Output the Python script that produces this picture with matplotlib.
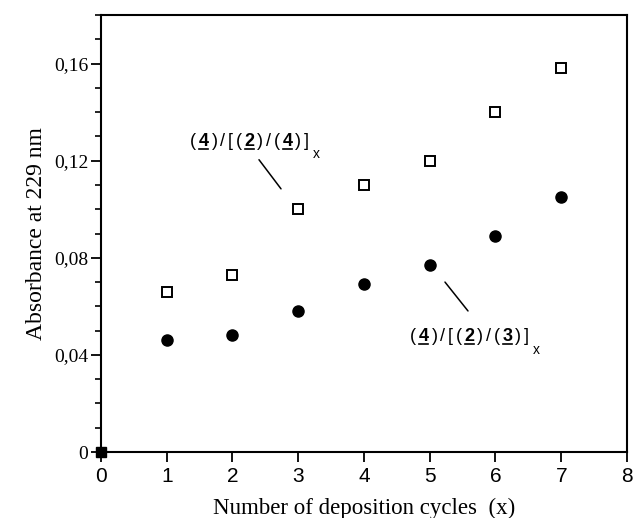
import matplotlib
matplotlib.use("Agg")
import matplotlib.pyplot as plt
from matplotlib.transforms import IdentityTransform
from matplotlib.ticker import MultipleLocator, FuncFormatter

# deposition cycles and absorbance
cycles = [1, 2, 3, 4, 5, 6, 7]
abs_424 = [0.066, 0.073, 0.100, 0.110, 0.120, 0.140, 0.158]   # (4)/[(2)/(4)]x, open squares
abs_423 = [0.046, 0.048, 0.058, 0.069, 0.077, 0.089, 0.105]   # (4)/[(2)/(3)]x, filled circles
start_x = [0]
start_y = [0.0]

label_424 = "(4)/[(2)/(4)]"
label_423 = "(4)/[(2)/(3)]"

fig = plt.figure(figsize=(6.36, 5.18), dpi=100)
ax = fig.add_axes([0.1588, 0.1274, 0.8270, 0.8436])

ax.plot(cycles, abs_424, ls="none", marker="s", ms=7, mfc="white", mec="black", mew=1.4)
ax.plot(cycles, abs_423, ls="none", marker="o", ms=8, mfc="black", mec="black")
ax.plot(start_x, start_y, ls="none", marker="s", ms=7.5, color="black", clip_on=False, zorder=5)

ax.set_xlim(0, 8)
ax.set_ylim(0, 0.18)
ax.xaxis.set_major_locator(MultipleLocator(1))
ax.yaxis.set_major_locator(MultipleLocator(0.04))
ax.yaxis.set_minor_locator(MultipleLocator(0.01))
ax.yaxis.set_major_formatter(FuncFormatter(
    lambda v, p: "0" if abs(v) < 1e-9 else f"{v:.2f}".replace(".", ",")))

for s in ax.spines.values():
    s.set_linewidth(1.5)
ax.tick_params(axis="both", which="major", direction="out", length=7, width=1.3)
ax.tick_params(axis="y", which="minor", direction="out", length=4, width=1.2)
ax.tick_params(axis="x", labelsize=15, pad=4)
ax.tick_params(axis="y", labelsize=14, pad=2)
for t in ax.get_xticklabels():
    t.set_fontfamily("Liberation Sans")
for t in ax.get_yticklabels():
    t.set_fontfamily("Liberation Serif")

ax.set_xlabel("Number of deposition cycles  (x)", fontsize=16.5, family="Liberation Serif", labelpad=8)
ax.set_ylabel("Absorbance at 229 nm", fontsize=17, family="Liberation Serif", labelpad=5)


def spaced_label(x, y, text, size=13, gap=2.7, sub="x", drop=12):
    # letter-spaced label, digits bold and underlined, with a subscript x
    renderer = fig.canvas.get_renderer()
    px, py = ax.transData.transform((x, y))
    for ch in text:
        bold = ch.isdigit()
        t = fig.text(px, py, ch, transform=IdentityTransform(), fontsize=size,
                     fontweight="bold" if bold else "normal", family="Liberation Sans",
                     ha="left", va="baseline")
        w = t.get_window_extent(renderer).width
        if bold:
            fig.add_artist(plt.Line2D([px + 0.5, px + w - 0.5], [py - 3, py - 3], lw=1.2,
                                      color="black", transform=IdentityTransform()))
        px += w + gap
    fig.text(px + 1, py - drop, sub, transform=IdentityTransform(), fontsize=10,
             family="Liberation Sans", ha="left", va="baseline")


spaced_label(1.354, 0.1260, label_424)
spaced_label(4.700, 0.0457, label_423, drop=13)

ax.annotate("", xy=(2.738, 0.1084), xytext=(2.403, 0.1204),
            arrowprops=dict(arrowstyle="-", color="black", lw=1.1, shrinkA=0, shrinkB=0))
ax.annotate("", xy=(5.582, 0.0581), xytext=(5.232, 0.0700),
            arrowprops=dict(arrowstyle="-", color="black", lw=1.1, shrinkA=0, shrinkB=0))

fig.savefig("out.png", dpi=100)
